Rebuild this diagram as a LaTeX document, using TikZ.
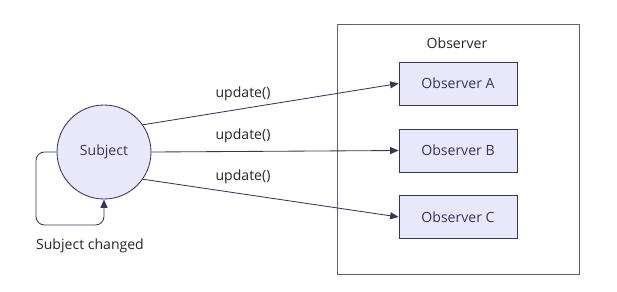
\documentclass[tikz,border=0pt]{standalone}
\usepackage{fontspec}
\setmainfont{Open Sans}
\usepackage{xcolor}
\usetikzlibrary{positioning,arrows.meta}

\definecolor{navy}{HTML}{35355F}
\definecolor{lavender}{HTML}{E9E8FB}
\definecolor{frame}{HTML}{5E5E7E}

\begin{document}
\begin{tikzpicture}[
  x=0.025cm, y=-0.025cm,
  font=\fontsize{10}{12}\selectfont,
  subject/.style={draw=navy, fill=lavender, circle, minimum size=94*0.025cm, inner sep=0pt},
  obsbox/.style={draw=navy, fill=lavender, minimum width=118*0.025cm, minimum height=43*0.025cm, inner sep=0pt},
  group/.style={draw=frame, minimum width=242*0.025cm, minimum height=250*0.025cm, inner sep=0pt},
  msg/.style={inner sep=1pt, text=black!85},
  >={Triangle[length=6pt, width=5pt]}, navy, line width=0.6pt
]
  \useasboundingbox (0,0) rectangle (617,291);

  % observer group
  \node[group] (grp) at (458,149) {};
  \node[msg] (grplabel) at (457,43) {Observer};
  \node[obsbox] (obsA) at (458,83.5) {Observer A};
  \node[obsbox] (obsB) at (458,150.5) {Observer B};
  \node[obsbox] (obsC) at (458,217) {Observer C};

  % subject
  \node[subject] (subj) at (104,152) {Subject};

  % notifications
  \draw[->] (subj.35) -- (obsA.west);
  \draw[->] (subj.east) -- (obsB.west);
  \draw[->] (subj.-35) -- (obsC.west);
  \node[msg] (upA) at (243,94) {update()};
  \node[msg] (upB) at (243,136) {update()};
  \node[msg] (upC) at (243,177) {update()};

  % self loop
  \coordinate (loopL) at (36,225);
  \draw[->, rounded corners=6pt] (subj.west) -| (loopL) -| (subj.south);
  \node[msg] (changed) at (90,246) {Subject changed};
\end{tikzpicture}
\end{document}
